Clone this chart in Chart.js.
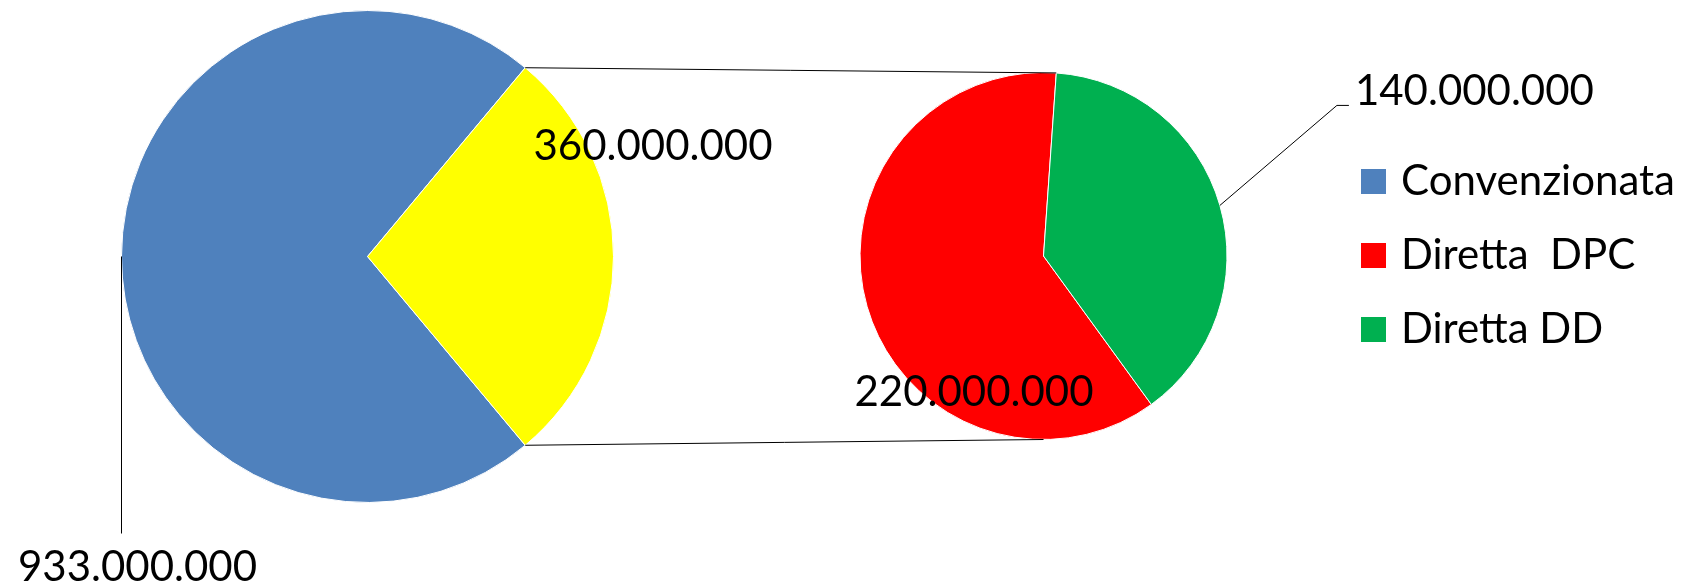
<!DOCTYPE html>
<html>
<head>
<meta charset="utf-8">
<script src="https://cdn.jsdelivr.net/npm/chart.js@4.4.0/dist/chart.umd.min.js"></script>
<style>
  html, body { margin: 0; padding: 0; background: #fff; }
  #wrap { position: relative; width: 1699px; height: 586px; overflow: hidden; }
  #wrap canvas { position: absolute; left: 0; top: 0; }
</style>
</head>
<body>
<div id="wrap">
  <canvas id="mainPie" width="1699" height="586"></canvas>
  <canvas id="subPie" width="1699" height="586"></canvas>
</div>
<script>
// data
const mainLabels = ["Convenzionata", "Diretta"];
const mainValues = [933000000, 360000000];
const subLabels = ["Diretta  DPC", "Diretta DD"];
const subValues = [220000000, 140000000];
const legendLabels = ["Convenzionata", "Diretta  DPC", "Diretta DD"];

const colors = {
  "Convenzionata": "#4F81BD",
  "Diretta": "#FFFF00",
  "Diretta  DPC": "#FF0000",
  "Diretta DD": "#00B050"
};

const FONT = "42px Lato, 'Open Sans', sans-serif";
const W = 1699, H = 586;

// thousands separator like the italian original
const fmt = v => String(v).replace(/\B(?=(\d{3})+(?!\d))/g, ".");

let mainChart;

// the "other" slice is centred on 3 o'clock, like Excel's pie of pie
const mainTotal = mainValues.reduce((a, b) => a + b, 0);
const otherSpan = mainValues[1] / mainTotal * 360;

const ofPiePlugin = {
  id: "ofPie",
  afterDraw(chart) {
    const ctx = chart.ctx;
    const big = mainChart.getDatasetMeta(0).data;
    const small = chart.getDatasetMeta(0).data;
    const pt = (arc, ang, r) => ({ x: arc.x + Math.cos(ang) * r, y: arc.y + Math.sin(ang) * r });
    const mid = arc => (arc.startAngle + arc.endAngle) / 2;

    ctx.save();
    ctx.strokeStyle = "#000";
    ctx.lineWidth = 1;

    // connector lines between the two pies
    const other = big[1];
    const a = pt(other, other.startAngle, other.outerRadius);
    const b = pt(other, other.endAngle, other.outerRadius);
    const dd = small[1];
    const top = pt(dd, dd.startAngle, dd.outerRadius);
    const bottom = { x: dd.x, y: dd.y + dd.outerRadius };
    ctx.beginPath();
    ctx.moveTo(a.x, a.y); ctx.lineTo(top.x, top.y);
    ctx.moveTo(b.x, b.y); ctx.lineTo(bottom.x, bottom.y);
    ctx.stroke();

    // leader lines
    const conv = big[0];
    const p1 = pt(conv, mid(conv), conv.outerRadius);
    ctx.beginPath();
    ctx.moveTo(p1.x, p1.y); ctx.lineTo(p1.x, p1.y + 277);
    ctx.stroke();

    const p2 = pt(dd, mid(dd), dd.outerRadius);
    ctx.beginPath();
    ctx.moveTo(p2.x, p2.y); ctx.lineTo(p2.x + 117, p2.y - 100);
    ctx.lineTo(p2.x + 129, p2.y - 100);
    ctx.stroke();

    // data labels
    ctx.fillStyle = "#000";
    ctx.font = FONT;
    ctx.textBaseline = "alphabetic";
    ctx.textAlign = "center";
    ctx.fillText(fmt(mainValues[0]), p1.x + 16, p1.y + 324);
    ctx.textAlign = "left";
    ctx.fillText(fmt(mainValues[1]), other.x + 166, other.y - 97);
    ctx.fillText(fmt(subValues[0]), small[0].x - 189, small[0].y + 150);
    ctx.fillText(fmt(subValues[1]), p2.x + 135, p2.y - 100);

    // legend
    const lx = 1361, ly = 169, step = 74;
    legendLabels.forEach((lab, i) => {
      ctx.fillStyle = colors[lab];
      ctx.fillRect(lx, ly + i * step, 25, 25);
      ctx.fillStyle = "#000";
      ctx.fillText(lab, lx + 40, ly + i * step + 26);
    });
    ctx.restore();
  }
};

function baseOptions(padding, rotation) {
  return {
    responsive: false,
    animation: false,
    rotation: rotation,
    layout: { padding: padding },
    plugins: {
      legend: { display: false },
      tooltip: { enabled: false }
    }
  };
}

function draw() {
  mainChart = new Chart(document.getElementById("mainPie"), {
    type: "pie",
    data: {
      labels: mainLabels,
      datasets: [{
        data: mainValues,
        backgroundColor: mainLabels.map(l => colors[l]),
        borderColor: "#fff",
        borderWidth: 1
      }]
    },
    options: baseOptions({ left: 121, right: W - 614, top: 10, bottom: H - 503 }, 90 + otherSpan / 2)
  });

  new Chart(document.getElementById("subPie"), {
    type: "pie",
    data: {
      labels: subLabels,
      datasets: [{
        data: subValues,
        backgroundColor: subLabels.map(l => colors[l]),
        borderColor: "#fff",
        borderWidth: 1
      }]
    },
    options: baseOptions({ left: 859, right: W - 1228, top: 72, bottom: H - 440 }, 144),
    plugins: [ofPiePlugin]
  });
}

document.fonts.load(FONT).then(draw, draw);
</script>
</body>
</html>
